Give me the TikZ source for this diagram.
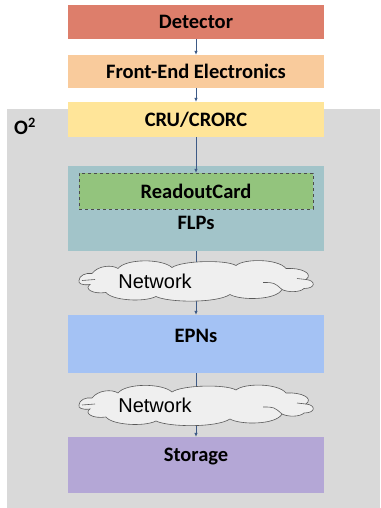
\documentclass[tikz,border=0pt]{standalone}
\usepackage{fontspec}
\setmainfont{Carlito}
\newfontfamily\netfont{Liberation Sans}
\usetikzlibrary{arrows.meta}
\definecolor{detcol}{HTML}{DD7E6B}
\definecolor{feecol}{HTML}{F9CB9C}
\definecolor{crucol}{HTML}{FFE599}
\definecolor{flpcol}{HTML}{A2C4C9}
\definecolor{rccol}{HTML}{93C47D}
\definecolor{epncol}{HTML}{A4C2F4}
\definecolor{stocol}{HTML}{B4A7D6}
\definecolor{fondcol}{HTML}{D9D9D9}
\definecolor{nuagecol}{HTML}{EFEFEF}
\definecolor{flechecol}{HTML}{3D5A86}
\tikzset{
  titre/.style={font=\fontsize{20.5}{20.5}\selectfont\bfseries},
  bloc/.style={fill=#1, minimum width=256pt, inner sep=0pt, titre},
  reseau/.style={font=\netfont\fontsize{20}{20}\selectfont, inner sep=0pt},
  nuage/.style={draw=black!65, line width=0.6pt, fill=nuagecol},
  fleche/.style={draw=flechecol, line width=0.6pt, -{Latex[length=4pt,width=3.4pt]}}
}
\begin{document}
\begin{tikzpicture}[x=1pt,y=-1pt]
  \def\nuagepath{(-117,0) .. controls (-117,-5) and (-110,-8) .. (-104,-7)
    .. controls (-98,-15) and (-84,-16) .. (-78,-12)
    .. controls (-70,-22) and (-34,-22) .. (-24,-13)
    .. controls (-14,-20) and (30,-21) .. (40,-15)
    .. controls (48,-22) and (82,-22) .. (90,-12)
    .. controls (105,-13) and (118,-7) .. (110,-1)
    .. controls (120,0) and (120,8) .. (108,8)
    .. controls (104,12) and (92,12) .. (86,9)
    .. controls (80,20) and (44,20) .. (34,14)
    .. controls (20,23) and (-28,22) .. (-40,16)
    .. controls (-52,22) and (-84,20) .. (-90,12)
    .. controls (-104,14) and (-112,8) .. (-106,4)
    .. controls (-114,5) and (-118,3) .. (-117,0) -- cycle}
  \def\nuageplis{(-114,0) .. controls (-108,-1) .. (-101,-1)
    (101,-2) -- (110,-1) (67,2) .. controls (78,2) .. (86,9)}
  \useasboundingbox (0,0) rectangle (380,508);
  \fill[fondcol] (7,109) rectangle (380,508);
  \node[titre, anchor=base west, inner sep=0pt] (otwo) at (14,135) {O\textsuperscript{2}};
  \node[bloc=detcol, minimum height=34pt] (det) at (196,22) {Detector};
  \node[bloc=feecol, minimum height=33pt] (fee) at (196,71.5) {Front-End Electronics};
  \node[bloc=crucol, minimum height=35pt] (cru) at (196,119.5) {CRU/CRORC};
  \node[bloc=flpcol, minimum height=85pt,
    label={[titre, anchor=center, yshift=-57pt]north:FLPs}] (flp) at (196,208.5) {};
  \node[bloc=rccol, minimum width=234pt, minimum height=36pt, draw=black!70, dashed,
    line width=0.4pt] (rc) at (196,191) {ReadoutCard};
  \node[bloc=epncol, minimum height=58pt,
    label={[titre, anchor=center, yshift=-21pt]north:EPNs}] (epn) at (196,344) {};
  \node[bloc=stocol, minimum height=56pt,
    label={[titre, anchor=center, yshift=-20pt]north:Storage}] (sto) at (196,465) {};
  \draw[fleche] (det) -- (fee);
  \draw[fleche] (fee) -- (cru);
  \draw[fleche] (cru) -- (rc);
  \draw[fleche] (flp) -- (epn);
  \draw[fleche] (epn) -- (sto);
  % nuages par-dessus les fleches
  \draw[nuage, shift={(196,280.5)}] \nuagepath;
  \draw[nuage, fill=none, shift={(196,280.5)}] \nuageplis;
  \node[reseau] (netA) at (155,281) {Network};
  \draw[nuage, shift={(196,405)}] \nuagepath;
  \draw[nuage, fill=none, shift={(196,405)}] \nuageplis;
  \node[reseau] (netB) at (155,405.5) {Network};
\end{tikzpicture}
\end{document}
